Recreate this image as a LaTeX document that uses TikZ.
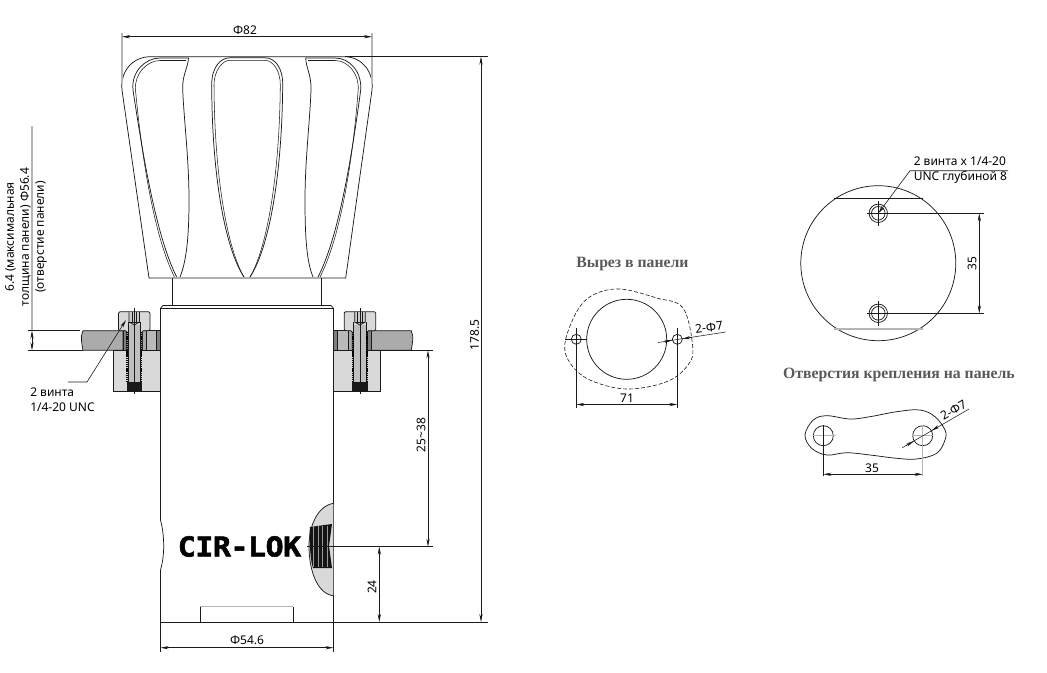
\documentclass[tikz,border=0pt]{standalone}
\usepackage{fontspec}
\setmainfont{Noto Sans}
\newfontfamily\titlefont{Liberation Serif}
\newfontfamily\logofont[FakeBold=2,FakeStretch=1.1]{DejaVu Sans Mono}
\usetikzlibrary{arrows.meta}
\definecolor{inkc}{HTML}{1A1A1A}
\definecolor{grayc}{HTML}{B5B5B5}
\tikzset{
  ln/.style={draw=inkc,line width=0.55pt},
  thin ln/.style={draw=inkc,line width=0.4pt},
  glight/.style={draw=grayc,line width=0.8pt},
  dimline/.style={draw=inkc,line width=0.45pt,{Stealth[length=6pt,width=2.4pt]}-{Stealth[length=6pt,width=2.4pt]}},
  onearrow/.style={draw=inkc,line width=0.45pt,-{Stealth[length=6pt,width=2.4pt]}},
  lbl/.style={font=\fontsize{9}{11.2}\selectfont,text=black,inner sep=0pt},
  ttl/.style={font=\titlefont\bfseries\fontsize{11.8}{13}\selectfont,text=black!65,inner sep=0pt},
}
\newcommand{\clampside}{%
  \fill[white] (0,330.7) rectangle (18.5,350.3);
  \path[ln,fill=black!50] (0,330.7) rectangle (4,350.3);
  \path[ln,fill=black!27] (4,330.7) rectangle (14.5,350.3);
  \path[ln,fill=black!33] (14.5,330.7) rectangle (18.5,350.3);
  \path[ln,fill=black!33] (37.5,330.7) -- (77.5,330.7) .. controls (80.5,336) and (78.5,345) .. (77.5,350.3) -- (37.5,350.3) -- cycle;
  \path[ln,fill=black!50] (33.5,330.7) rectangle (37.5,350.3);
  \path[ln,fill=black!15,rounded corners=1pt] (10.5,330.7) -- (10.5,311.7) -- (42,311.7) -- (42,330.7) -- (33.5,330.7) -- (33.5,350.3) -- (18.5,350.3) -- (18.5,330.7) -- cycle;
  \path[ln,fill=black!15] (0,350.3) rectangle (47,391.3);
  \path[draw=none,fill=black!25] (20,325) rectangle (32.5,381.7);
  \draw[ln] (20,322) -- (20,381.7) (32.5,322) -- (32.5,381.7);
  \fill[black!90] (18.5,381.7) rectangle (34,391.3);
  \draw[black,line width=1.2pt,dash pattern=on 1pt off .6pt] (19,332) -- (19,382) (33.5,332) -- (33.5,382);
  \draw[ln,fill=black!20] (21,312) -- (21,322) -- (26.2,325) -- (31.5,322) -- (31.5,312);
  \draw[thin ln] (21,322) -- (31.5,322) (24,312) -- (24,322) (28.5,312) -- (28.5,322);
  \draw[thin ln] (26.2,308) -- (26.2,394);
}
\begin{document}
\begin{tikzpicture}[x=0.75pt,y=-0.75pt]
\path[use as bounding box,fill=white] (0,0) rectangle (1047,672);

% ---- knob
\path[ln] (149,278) -- (122,90) .. controls (120,72) and (132,57) .. (150,56.7)
  -- (345,56.7) .. controls (362,57) and (374,72) .. (372,90) -- (345.7,278) -- cycle;
% left groove
\draw[ln] (176.7,277) .. controls (158,240) and (145,170) .. (133,90) .. controls (131,72) and (145,58) .. (160,58) -- (188.5,58)
  .. controls (188,68) and (182,75) .. (182.7,90) .. controls (184,120) and (189,160) .. (189,200) .. controls (189,240) and (186,262) .. (180,277);
\draw[thin ln] (174.5,277) .. controls (156,240) and (143,170) .. (135.5,90) .. controls (134,74) and (147,60.5) .. (160,60.5) -- (186,60.5);
% centre groove
\draw[ln] (244,277) .. controls (226,250) and (212,180) .. (211.7,85) .. controls (211.5,68) and (220,57.8) .. (230,57.8) -- (265,57.8) .. controls (275,57.8) and (283,68) .. (282.7,85) .. controls (282,180) and (268,250) .. (250,277);
\draw[thin ln] (244,277) .. controls (228,250) and (214.5,180) .. (214,85) .. controls (214,71) and (222,60.3) .. (230,60.3) -- (265,60.3) .. controls (273,60.3) and (280.5,71) .. (280.3,85) .. controls (279.5,180) and (266,250) .. (250,277);
% right groove
\draw[ln] (313,277) .. controls (307,262) and (305,240) .. (305,200) .. controls (305,160) and (310,120) .. (311,90) .. controls (311.5,75) and (306,68) .. (305.7,58) -- (335,58) .. controls (350,58) and (362,72) .. (360.7,90) .. controls (350,170) and (337,240) .. (318,277);
\draw[thin ln] (320,277) .. controls (339,240) and (352,170) .. (358.2,90) .. controls (359.5,74) and (348,60.5) .. (335,60.5) -- (308,60.5);
% neck + body
\draw[ln] (172.5,278) -- (172.5,305.5) (321.5,278) -- (321.5,305.5);
\path[ln] (160.5,622) -- (160.5,570) .. controls (165,555) and (164.5,535) .. (160.5,520) -- (160.5,308.3) -- (163,305.5) -- (331,305.5) -- (333.5,308.3) -- (333.5,622);
\draw[ln] (160.5,308.3) -- (333.5,308.3);
\draw[draw=inkc,line width=0.7pt] (160.5,622) -- (333.5,622);
\draw[glight] (200,606.7) -- (293,606.7);
\draw[ln] (200,606.7) -- (200,622) (293,606.7) -- (293,622);

% ---- clamps
\begin{scope}[shift={(160.5,0)},xscale=-1]\clampside\end{scope}
\begin{scope}[shift={(333.7,0)}]\clampside\end{scope}

% ---- side port
\path[ln,fill=black!15] (333.4,503.3) .. controls (318,506) and (309,525) .. (309,546)
  .. controls (309,572) and (318,594) .. (333.4,595.7);
\fill[black!92] (310,527) -- (332,524) -- (329,546) -- (332,568) -- (313,568) .. controls (310,560) and (309,535) .. (310,527);
\foreach \xx in {313.5,318,...,328}{\draw[black!40,line width=0.25pt] (\xx,526) -- (\xx,567);}
\node[inner sep=0pt] (logo) at (239.5,546.5) {\logofont\bfseries\fontsize{20.5}{20.5}\selectfont\addfontfeature{LetterSpace=-2}CIR-LOK};

% ---- dimensions, main view
\draw[glight] (122,33) -- (122,83) (372,33) -- (372,83);
\draw[dimline] (122,36.7) -- (372,36.7);
\node[lbl] (phi82) at (245,30) {Φ82};
\draw[ln] (345,56.7) -- (488,56.7);
\draw[ln] (333,622) -- (488,622);
\draw[dimline] (481,56.7) -- (481,622);
\node[lbl,rotate=90] (d1785) at (474.5,335) {178.5};
\draw[ln] (372,350.3) -- (433,350.3);
\draw[draw=inkc,line width=0.7pt] (307,546.7) -- (433,546.7);
\draw[dimline] (428,350.3) -- (428,546.7);
\node[lbl,rotate=90] (d2538) at (421,435) {25\textasciitilde38};
\draw[dimline] (379.3,546.7) -- (379.3,622);
\node[lbl,rotate=90] (d24) at (372,587) {24};
\draw[ln] (160.5,622) -- (160.5,652) (333.4,622) -- (333.4,652);
\draw[dimline] (160.5,647.7) -- (333.4,647.7);
\node[lbl] (d546) at (247,640.5) {Φ54.6};

% panel thickness
\draw[thin ln] (28,330.7) -- (80,330.7) (28,350.3) -- (83,350.3);
\draw[glight] (32,126) -- (32,330);
\draw[dimline] (32,330.7) -- (32,350.3);
\node[lbl,rotate=90,align=center] (d64) at (26,237) {6.4 (максимальная\\толщина панели) Φ56.4\\(отверстие панели)};
\coordinate (ls1) at (68,382);
\coordinate (ls2) at (87,382);
\coordinate (ls3) at (126,320);
\draw[onearrow] (ls1) -- (ls2) -- (ls3);
\node[lbl,align=left,anchor=north west] (sc) at (30,388) {2 винта\\1/4-20 UNC};

% ---- panel cut-out
\node[ttl] (t1) at (632.5,264) {Вырез в панели};
\draw[ln] (626.7,339.3) circle (40);
\draw[ln] (576.3,339.3) circle (5);
\draw[ln] (677.3,339.3) circle (5);
\draw[draw=inkc,line width=0.45pt,dash pattern=on 3pt off 1.5pt] plot[smooth cycle,tension=0.6] coordinates {(565,343) (576.7,311.7) (593,295) (620,289) (656.7,298) (683,308) (692.7,346.7) (688,365) (666.7,381.7) (626.7,389) (590,380) (570,363)};
\draw[thin ln] (565,339.3) -- (587,339.3);
\draw[thin ln] (576.3,328) -- (576.3,408) (677.3,328) -- (677.3,408);
\draw[dimline] (576.3,404.5) -- (677.3,404.5);
\node[lbl] (d71) at (627,398) {71};
\coordinate (a1) at (658,342.5);
\coordinate (a2) at (725.7,332);
\draw[thin ln] (a1) -- (a2);
\draw[onearrow] (665,341.4) -- (672.3,340.2);
\draw[onearrow] (692,337.3) -- (682.3,338.8);
\node[lbl,rotate=8] (d7a) at (709,327.5) {2-Φ7};

% ---- rear view
\draw[ln] (878.3,263.2) circle (77.5);
\draw[ln] (834,198.3) -- (922.7,198.3);
\draw[glight] (834,329) -- (922.7,329);
\foreach \yy in {213.3,313.3}{
  \draw[ln] (878.3,\yy) circle (9.2);
  \draw[ln] (878.3,\yy) circle (6.8);
  \draw[thin ln] (878.3,\yy-12) -- (878.3,\yy+12.5);
  \draw[thin ln] (867.3,\yy) -- (984,\yy);
}
\draw[dimline] (979.3,213.3) -- (979.3,313.3);
\node[lbl,rotate=90] (d35a) at (972,263.5) {35};
\coordinate (b1) at (1008,170.7);
\coordinate (b2) at (910,170.7);
\coordinate (b3) at (878.3,213.3);
\draw[onearrow] (b1) -- (b2) -- (b3);
\node[lbl,align=left,anchor=north west] (sc2) at (913.5,157) {2 винта x 1/4-20\\UNC глубиной 8};

% ---- mounting holes
\node[ttl] (t2) at (899,375) {Отверстия крепления на панель};
\draw[ln] plot[smooth cycle,tension=0.6] coordinates {(805,435) (813.3,420) (826.7,415.7) (850,419) (870,416.7) (896.7,411.7) (920,410) (935,416.7) (945,430) (945,440) (936.7,453.3) (916.7,459) (896.7,458.3) (870,455) (846.7,452.7) (826.7,455) (811.7,448.3)};
\draw[ln] (823.3,435.7) circle (10);
\draw[ln] (922.7,435.7) circle (10);
\draw[glight] (813,435.7) -- (836,435.7) (912,435.7) -- (933,435.7);
\draw[glight] (922.7,425) -- (922.7,476);
\draw[thin ln] (823.3,425) -- (823.3,476);
\draw[dimline] (823.3,474.3) -- (922.7,474.3);
\node[lbl] (d35b) at (872,468) {35};
\coordinate (c1) at (902.3,447.7);
\coordinate (c2) at (969,409);
\draw[thin ln] (c1) -- (c2);
\draw[onearrow] (906,445.6) -- (914,441);
\draw[onearrow] (938,426.8) -- (931.5,430.6);
\node[lbl,rotate=30] (d7b) at (953.5,410) {2-Φ7};
\end{tikzpicture}
\end{document}
